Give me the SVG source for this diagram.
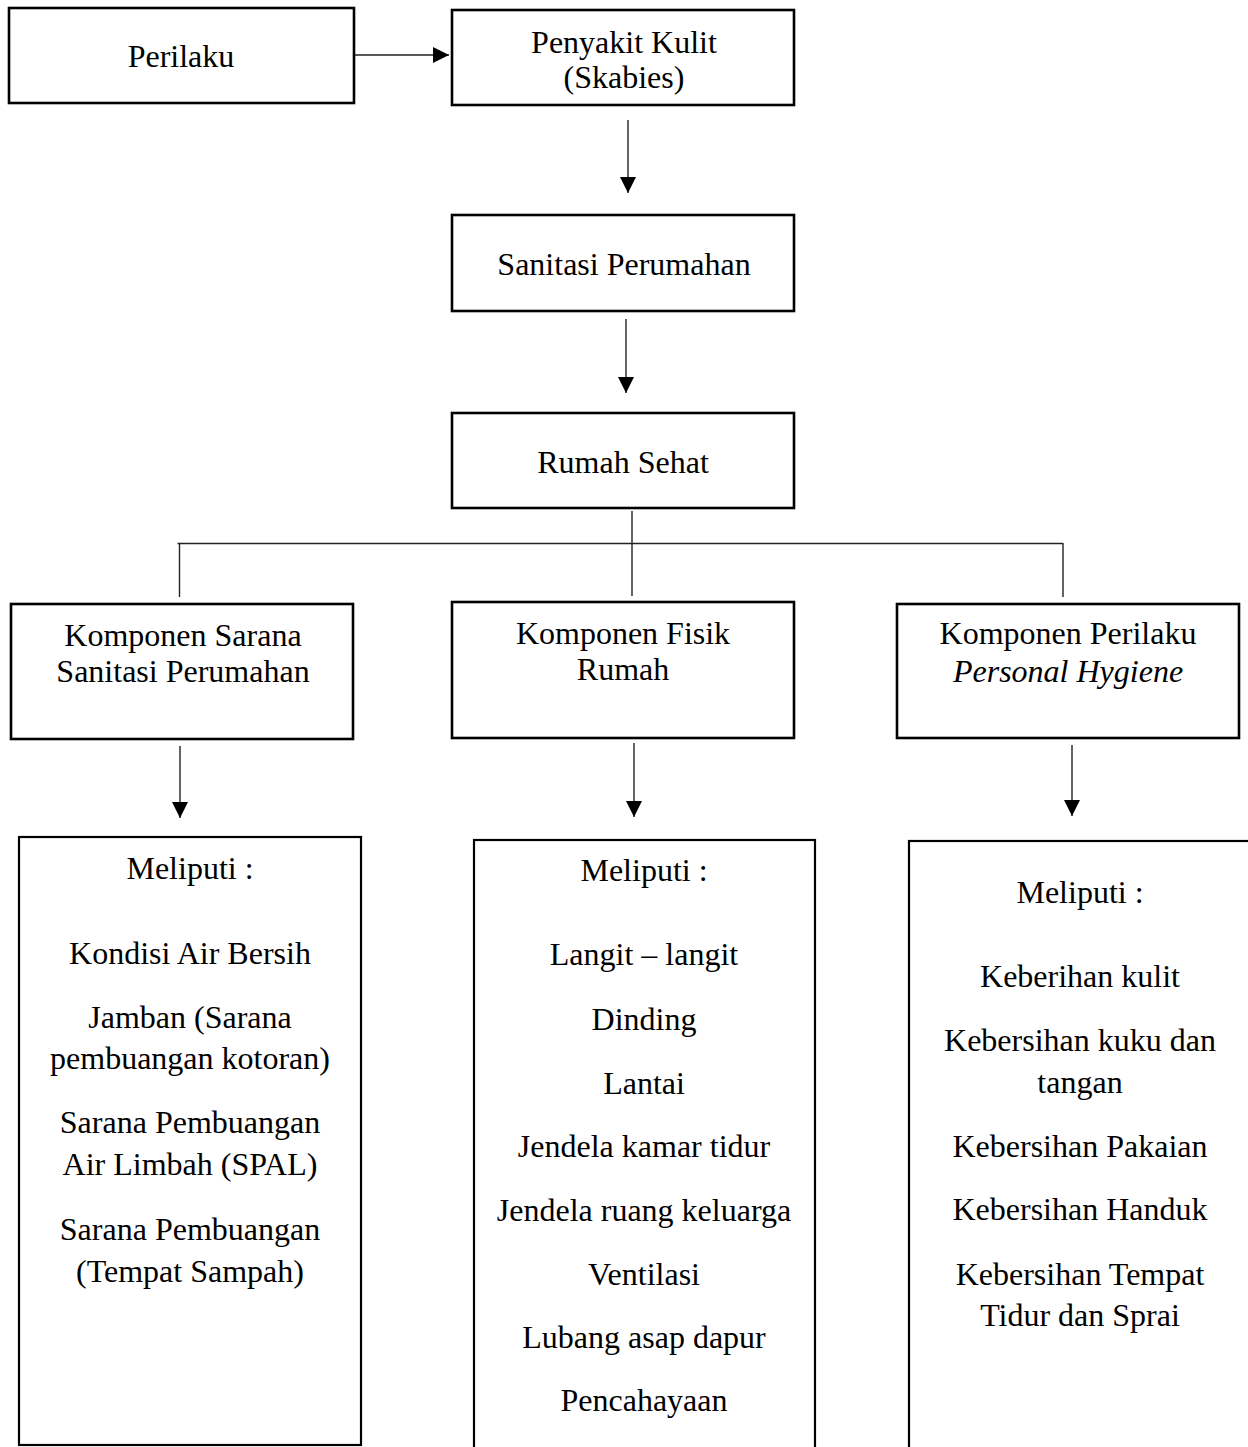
<svg xmlns="http://www.w3.org/2000/svg" width="1248" height="1447" viewBox="0 0 1248 1447">
<defs>
<style>
.box{fill:#fff;stroke:#000;stroke-width:2.6}
.lbox{fill:#fff;stroke:#000;stroke-width:2.2}
.t{font-family:"Liberation Serif","Times New Roman",serif;font-size:32px;fill:#000;text-anchor:middle}
.i{font-style:italic}
.c{stroke:#222;stroke-width:1.4;fill:none}
</style>
<marker id="ah" viewBox="0 0 16 16" refX="16" refY="8" markerWidth="16" markerHeight="16" orient="auto" markerUnits="userSpaceOnUse">
<path d="M0,0 L16,8 L0,16 z" fill="#000"/>
</marker>
</defs>
<rect width="1248" height="1447" fill="#fff"/>

<g id="connectors">
<line class="c" x1="355" y1="55" x2="449" y2="55" marker-end="url(#ah)"/>
<line class="c" x1="628" y1="120" x2="628" y2="193" marker-end="url(#ah)"/>
<line class="c" x1="626" y1="319" x2="626" y2="393" marker-end="url(#ah)"/>
<line class="c" x1="632" y1="511" x2="632" y2="596"/>
<line class="c" x1="177.5" y1="543.5" x2="1063" y2="543.5"/>
<line class="c" x1="179.5" y1="543" x2="179.5" y2="597"/>
<line class="c" x1="1063" y1="543" x2="1063" y2="597"/>
<line class="c" x1="180" y1="746" x2="180" y2="818" marker-end="url(#ah)"/>
<line class="c" x1="634" y1="743" x2="634" y2="817" marker-end="url(#ah)"/>
<line class="c" x1="1072" y1="745" x2="1072" y2="816" marker-end="url(#ah)"/>
</g>

<g id="perilaku">
<rect class="box" x="9" y="8" width="345" height="95"/>
<text class="t" x="181" y="67">Perilaku</text>
</g>

<g id="penyakit-kulit">
<rect class="box" x="452" y="10" width="342" height="95"/>
<text class="t" x="624" y="53">Penyakit Kulit</text>
<text class="t" x="624" y="88">(Skabies)</text>
</g>

<g id="sanitasi-perumahan">
<rect class="box" x="452" y="215" width="342" height="96"/>
<text class="t" x="624" y="275">Sanitasi Perumahan</text>
</g>

<g id="rumah-sehat">
<rect class="box" x="452" y="413" width="342" height="95"/>
<text class="t" x="623" y="473">Rumah Sehat</text>
</g>

<g id="komponen-sarana">
<rect class="box" x="11" y="604" width="342" height="135"/>
<text class="t" x="183" y="646">Komponen Sarana</text>
<text class="t" x="183" y="682">Sanitasi Perumahan</text>
</g>

<g id="komponen-fisik">
<rect class="box" x="452" y="602" width="342" height="136"/>
<text class="t" x="623" y="644">Komponen Fisik</text>
<text class="t" x="623" y="680">Rumah</text>
</g>

<g id="komponen-perilaku">
<rect class="box" x="897" y="604" width="342" height="134"/>
<text class="t" x="1068" y="644">Komponen Perilaku</text>
<text class="t i" x="1068" y="682">Personal Hygiene</text>
</g>

<g id="meliputi-sarana">
<rect class="lbox" x="19" y="837" width="342" height="608"/>
<text class="t" x="190" y="879">Meliputi :</text>
<text class="t" x="190" y="964">Kondisi Air Bersih</text>
<text class="t" x="190" y="1028">Jamban (Sarana</text>
<text class="t" x="190" y="1069">pembuangan kotoran)</text>
<text class="t" x="190" y="1133">Sarana Pembuangan</text>
<text class="t" x="190" y="1175">Air Limbah (SPAL)</text>
<text class="t" x="190" y="1240">Sarana Pembuangan</text>
<text class="t" x="190" y="1282">(Tempat Sampah)</text>
</g>

<g id="meliputi-fisik">
<rect class="lbox" x="474" y="840" width="341" height="640"/>
<text class="t" x="644" y="881">Meliputi :</text>
<text class="t" x="644" y="965">Langit – langit</text>
<text class="t" x="644" y="1030">Dinding</text>
<text class="t" x="644" y="1094">Lantai</text>
<text class="t" x="644" y="1157">Jendela kamar tidur</text>
<text class="t" x="644" y="1221">Jendela ruang keluarga</text>
<text class="t" x="644" y="1285">Ventilasi</text>
<text class="t" x="644" y="1348">Lubang asap dapur</text>
<text class="t" x="644" y="1411">Pencahayaan</text>
</g>

<g id="meliputi-perilaku">
<rect class="lbox" x="909" y="841" width="345" height="640"/>
<text class="t" x="1080" y="903">Meliputi :</text>
<text class="t" x="1080" y="987">Keberihan kulit</text>
<text class="t" x="1080" y="1051">Kebersihan kuku dan</text>
<text class="t" x="1080" y="1093">tangan</text>
<text class="t" x="1080" y="1157">Kebersihan Pakaian</text>
<text class="t" x="1080" y="1220">Kebersihan Handuk</text>
<text class="t" x="1080" y="1285">Kebersihan Tempat</text>
<text class="t" x="1080" y="1326">Tidur dan Sprai</text>
</g>
</svg>
